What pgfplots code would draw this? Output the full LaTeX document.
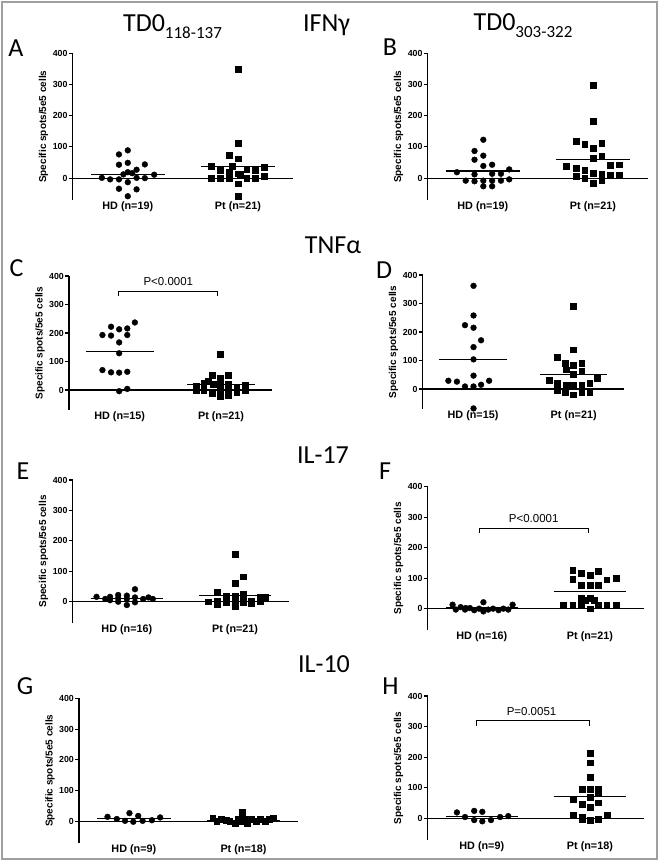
\documentclass[border=0pt]{standalone}
\usepackage{pgfplots}
\pgfplotsset{compat=1.18}
\usepackage{fontspec}
\setmainfont{Liberation Sans}
\newfontfamily\calibri{Carlito}

\pgfplotsset{
  gp/.style={
    scale only axis, anchor=south west, clip=false,
    xmin=0, xmax=4, ymin=-70, ymax=400,
    axis y line=left, axis x line=middle,
    axis line style={-, line width=1.1pt},
    hide obscured y ticks=false,
    xtick=\empty,
    ytick={0,100,200,300,400}, yticklabels={0,100,200,300,400},
    tick align=outside, major tick length=4pt,
    every tick/.style={black, line width=1.1pt},
    yticklabel style={font=\bfseries\fontsize{8.8}{9}\selectfont, inner sep=1pt},
    ylabel={Specific spots/5e5 cells},
    ylabel style={font=\bfseries\fontsize{10}{11}\selectfont},
  },
  hd/.style={only marks, mark=*, mark size=2.9pt, black},
  pt/.style={only marks, mark=square*, mark size=2.9pt, black},
  med/.style={black, line width=1.1pt, mark=none},
  br/.style={black, line width=1pt, mark=none},
}
\tikzset{
  cat/.style={anchor=north, inner sep=1pt, font=\bfseries\fontsize{10.8}{11}\selectfont},
  pval/.style={anchor=base, font=\fontsize{11.5}{12}\selectfont},
  big/.style={anchor=base, font=\calibri\fontsize{26}{30}\selectfont},
}
\newcommand{\sub}[1]{\raisebox{-6.5pt}{\fontsize{17}{20}\selectfont #1}}

\begin{document}
\begin{tikzpicture}
\useasboundingbox (0pt,0pt) rectangle (659pt,861pt);
\draw[gray!75, line width=1.5pt] (2pt,2pt) rectangle (657pt,859pt);

% A: IFNg, TD0 118-137
\begin{axis}[gp, at={(72.7pt,661pt)}, width=220.3pt, height=146.7pt]
\addplot[hd] coordinates {(1.00,89)(0.84,76)(1.00,49)(0.84,43)(1.31,44)(1.16,27)(0.92,12)(1.00,19)(1.08,16)(1.48,11)(0.53,1)(0.68,-4)(0.84,-4)(1.16,1)(1.31,0)(1.00,-13)(0.84,-34)(1.16,-36)(1.00,-58)};
\addplot[pt] coordinates {(3.00,349)(3.00,113)(2.84,73)(3.00,62)(2.51,39)(2.90,39)(3.47,35)(2.68,25)(2.84,19)(3.16,27)(3.31,25)(3.00,14)(3.04,12)(2.51,1)(2.68,1)(2.84,1)(3.16,1)(3.31,1)(3.47,6)(3.00,-18)(3.00,-58)};
\addplot[med] coordinates {(0.33,13)(1.67,13)};
\addplot[med] coordinates {(2.33,37)(3.67,37)};
\node[cat] at (axis cs:1,-70) {HD (n=19)};
\node[cat] at (axis cs:3,-70) {Pt (n=21)};
\end{axis}

% B: IFNg, TD0 303-322
\begin{axis}[gp, at={(427.7pt,661pt)}, width=220.3pt, height=146.7pt]
\addplot[hd] coordinates {(1.01,123)(0.85,87)(1.01,72)(0.85,59)(1.01,39)(1.17,43)(0.53,19)(1.48,28)(0.85,12)(1.17,14)(1.33,14)(0.69,-8)(0.85,-10)(1.01,-8)(1.17,-8)(1.33,-8)(1.48,-4)(1.01,-26)(1.17,-26)};
\addplot[pt] coordinates {(3.01,298)(3.01,182)(2.69,119)(2.85,108)(3.01,96)(3.16,113)(3.01,64)(3.16,71)(2.52,39)(2.69,33)(2.85,25)(3.01,17)(3.32,41)(3.48,43)(2.69,6)(2.85,0)(3.16,12)(3.32,9)(3.48,11)(3.01,-15)(3.16,-8)};
\addplot[med] coordinates {(0.33,23)(1.67,23)};
\addplot[med] coordinates {(2.33,61)(3.67,61)};
\node[cat] at (axis cs:1,-70) {HD (n=19)};
\node[cat] at (axis cs:3,-70) {Pt (n=21)};
\end{axis}

% C: TNFa, TD0 118-137
\begin{axis}[gp, at={(69pt,451pt)}, width=202.7pt, height=134pt]
\addplot[hd] coordinates {(1.30,237)(0.83,222)(0.99,213)(1.15,216)(0.66,193)(0.83,191)(1.15,193)(0.99,167)(0.99,129)(0.66,70)(0.83,62)(0.99,61)(1.15,64)(0.99,-4)(1.15,4)};
\addplot[pt] coordinates {(2.98,126)(2.82,53)(3.14,53)(2.75,33)(2.98,41)(2.51,15)(2.51,0)(2.66,0)(2.84,21)(2.98,23)(3.14,21)(3.31,12)(3.47,18)(3.47,0)(2.98,0)(2.82,-12)(3.14,-18)(3.31,-9)(2.98,-23)(2.66,23)(3.14,0)};
\addplot[med] coordinates {(0.33,135)(1.67,135)};
\addplot[med] coordinates {(2.33,20)(3.67,20)};
\addplot[br] coordinates {(0.98,330)(0.98,347)(2.94,347)(2.94,330)};
\node[pval] at ([yshift=5.7pt]axis cs:1.96,347) {P<0.0001};
\node[cat] at (axis cs:1,-70) {HD (n=15)};
\node[cat] at (axis cs:3,-70) {Pt (n=21)};
\end{axis}

% D: TNFa, TD0 303-322
\begin{axis}[gp, at={(422.7pt,452pt)}, width=201.3pt, height=134pt]
\addplot[hd] coordinates {(1.01,362)(1.01,258)(0.84,224)(1.01,215)(1.16,171)(1.01,147)(1.01,104)(1.01,47)(0.51,29)(0.68,26)(0.84,9)(1.01,9)(1.16,15)(1.32,29)(1.01,-68)};
\addplot[pt] coordinates {(2.99,291)(2.99,138)(2.68,112)(2.83,91)(2.99,85)(3.16,92)(2.85,68)(3.16,62)(2.99,52)(2.52,32)(2.68,20)(2.85,14)(2.99,15)(3.16,15)(3.32,21)(3.47,38)(2.68,-4)(2.83,-12)(2.99,-20)(3.16,-12)(3.32,-12)};
\addplot[med] coordinates {(0.33,105)(1.67,105)};
\addplot[med] coordinates {(2.33,52)(3.67,52)};
\node[cat] at (axis cs:1,-70) {HD (n=15)};
\node[cat] at (axis cs:3,-70) {Pt (n=21)};
\end{axis}

% E: IL-17, TD0 118-137
\begin{axis}[gp, at={(72.7pt,238pt)}, width=216.6pt, height=143pt]
\addplot[hd] coordinates {(1.15,41)(0.44,16)(0.60,9)(0.69,16)(0.84,22)(1.00,20)(1.00,9)(0.84,0)(1.15,14)(1.15,-2)(1.30,9)(1.40,14)(1.48,9)(1.00,-11)(0.69,5)(0.84,11)};
\addplot[pt] coordinates {(3.00,156)(3.15,82)(3.00,60)(2.67,30)(2.83,20)(3.00,19)(3.15,25)(2.50,0)(2.67,3)(2.83,-3)(3.00,3)(3.15,-3)(3.30,3)(3.46,0)(3.55,14)(2.67,-8)(3.00,-14)(3.15,11)(3.30,-5)(2.83,9)(3.46,14)};
\addplot[med] coordinates {(0.33,10)(1.67,10)};
\addplot[med] coordinates {(2.33,20)(3.67,20)};
\node[cat] at (axis cs:1,-70) {HD (n=16)};
\node[cat] at (axis cs:3,-70) {Pt (n=21)};
\end{axis}

% F: IL-17, TD0 303-322
\begin{axis}[gp, at={(427.7pt,231pt)}, width=216.3pt, height=143.3pt]
\addplot[hd] coordinates {(0.46,13)(1.03,21)(1.57,13)(0.61,5)(0.52,-3)(0.69,-3)(0.78,2)(0.86,-5)(0.95,0)(1.03,-9)(1.12,-3)(1.21,0)(1.31,-5)(1.40,0)(1.49,-3)(0.70,2)};
\addplot[pt] coordinates {(2.68,125)(2.84,117)(3.00,111)(3.16,122)(2.68,97)(2.84,78)(3.00,78)(3.16,78)(3.31,95)(3.48,100)(2.84,35)(2.92,29)(3.00,33)(3.08,27)(2.51,11)(2.68,11)(2.84,11)(3.16,11)(3.31,11)(3.48,11)(3.00,0)};
\addplot[med] coordinates {(0.33,2)(1.67,2)};
\addplot[med] coordinates {(2.33,56)(3.67,56)};
\addplot[br] coordinates {(0.95,248)(0.95,264)(2.97,264)(2.97,248)};
\node[pval] at ([yshift=5.7pt]axis cs:1.96,264) {P<0.0001};
\node[cat] at (axis cs:1,-70) {HD (n=16)};
\node[cat] at (axis cs:3,-70) {Pt (n=21)};
\end{axis}

% G: IL-10, TD0 118-137
\begin{axis}[gp, at={(79pt,18pt)}, width=219.3pt, height=144.7pt]
\addplot[hd] coordinates {(0.52,15)(0.69,8)(0.84,2)(0.92,27)(0.99,-1)(1.08,18)(1.16,2)(1.33,4)(1.48,13)};
\addplot[pt] coordinates {(2.44,11)(2.51,2)(2.60,8)(2.75,0)(2.91,8)(2.98,31)(2.98,18)(2.98,0)(3.06,8)(3.07,-5)(3.15,8)(3.23,0)(3.30,8)(3.39,0)(3.47,8)(3.54,10)(2.85,-5)(2.68,5)};
\addplot[med] coordinates {(0.33,10)(1.67,10)};
\addplot[med] coordinates {(2.33,4)(3.67,4)};
\node[cat] at (axis cs:1,-70) {HD (n=9)};
\node[cat] at (axis cs:3,-70) {Pt (n=18)};
\end{axis}

% H: IL-10, TD0 303-322
\begin{axis}[gp, at={(427.7pt,21pt)}, width=216.3pt, height=144pt]
\addplot[hd] coordinates {(0.54,20)(0.69,5)(0.86,25)(0.86,-5)(1.01,22)(1.01,-9)(1.17,-5)(1.34,5)(1.49,8)};
\addplot[pt] coordinates {(3.00,213)(3.00,182)(3.00,136)(2.85,96)(3.00,96)(3.16,96)(3.16,87)(2.69,62)(3.00,69)(2.85,47)(3.16,52)(3.00,36)(2.69,11)(3.32,11)(2.85,-3)(3.00,-5)(3.16,-3)(2.85,5)};
\addplot[med] coordinates {(0.33,8)(1.67,8)};
\addplot[med] coordinates {(2.33,71)(3.67,71)};
\addplot[br] coordinates {(0.91,302)(0.91,319)(2.99,319)(2.99,302)};
\node[pval] at ([yshift=5.7pt]axis cs:1.92,319) {P=0.0051};
\node[cat] at (axis cs:1,-70) {HD (n=9)};
\node[cat] at (axis cs:3,-70) {Pt (n=18)};
\end{axis}

% titles and panel letters
\node[big] at (172.5pt,829.3pt) {TD0\sub{118-137}};
\node[big] at (523pt,830pt) {TD0\sub{303-322}};
\node[big] at (326.5pt,829.3pt) {IFNγ};
\node[big] at (333pt,607.7pt) {TNFα};
\node[big] at (323pt,397.7pt) {IL-17};
\node[big] at (324pt,188.3pt) {IL-10};
\node[big] at (16pt,804.3pt) {A};
\node[big] at (390pt,805pt) {B};
\node[big] at (16.5pt,584.3pt) {C};
\node[big] at (384pt,582.7pt) {D};
\node[big] at (23pt,381.7pt) {E};
\node[big] at (385pt,381pt) {F};
\node[big] at (25pt,166pt) {G};
\node[big] at (390.5pt,166pt) {H};
\end{tikzpicture}
\end{document}
